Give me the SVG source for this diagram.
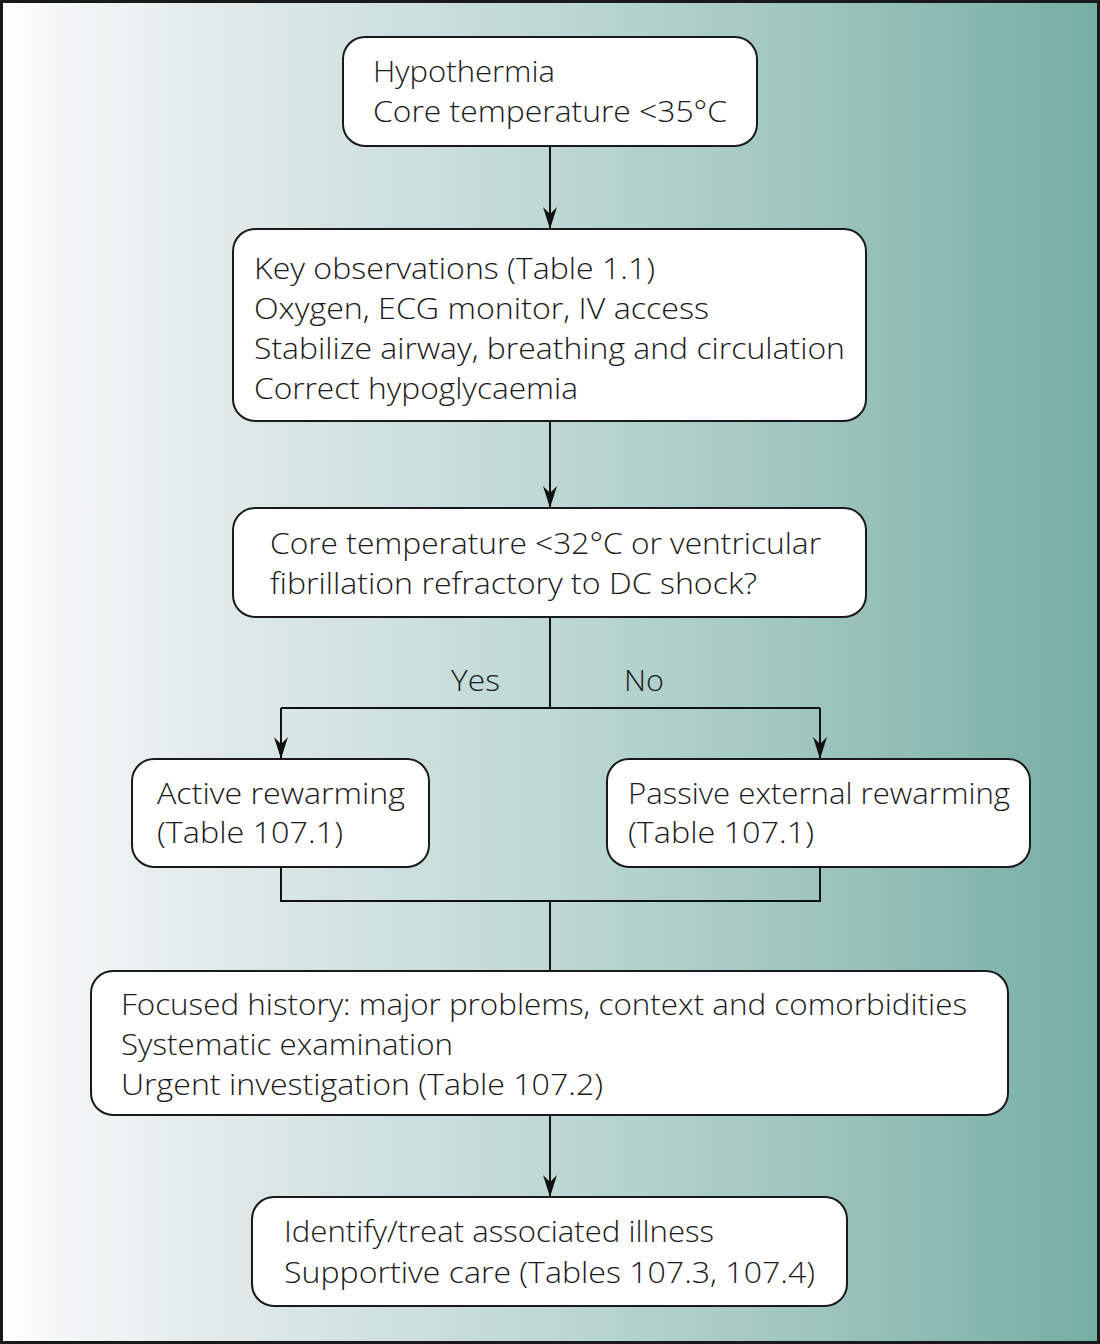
<svg xmlns="http://www.w3.org/2000/svg" width="1100" height="1344" viewBox="0 0 1100 1344">
<defs>
<linearGradient id="bg" x1="0" y1="0" x2="1" y2="0">
<stop offset="0" stop-color="#ffffff"/>
<stop offset="0.05" stop-color="#f4f7f7"/>
<stop offset="0.2" stop-color="#e0eae9"/>
<stop offset="0.5" stop-color="#bed8d4"/>
<stop offset="0.75" stop-color="#9dc4bd"/>
<stop offset="1" stop-color="#76aea5"/>
</linearGradient>
<marker id="ah" viewBox="0 0 24 14" refX="24" refY="7" markerWidth="24" markerHeight="14" markerUnits="userSpaceOnUse" orient="auto">
<path d="M2,0 L24,7 L2,14 L9,7 Z" fill="#111"/>
</marker>
</defs>
<style>
.box{fill:#fff;stroke:#1a1a1a;stroke-width:2}
.ln{fill:none;stroke:#111;stroke-width:2}
text{font-family:"Open Sans","Noto Sans","Liberation Sans",sans-serif;font-size:29px;font-weight:350;fill:#1a1a1a}
</style>
<rect x="0" y="0" width="1100" height="1344" fill="#1a1a1a"/>
<rect x="3" y="3" width="1094" height="1338" fill="url(#bg)"/>
<g id="connectors">
<line class="ln" x1="550" y1="146" x2="550" y2="229" marker-end="url(#ah)"/>
<line class="ln" x1="550" y1="421" x2="550" y2="508" marker-end="url(#ah)"/>
<polyline class="ln" points="550,617 550,708"/>
<polyline class="ln" points="281,708 820,708"/>
<line class="ln" x1="281" y1="708" x2="281" y2="759" marker-end="url(#ah)"/>
<line class="ln" x1="820" y1="708" x2="820" y2="759" marker-end="url(#ah)"/>
<polyline class="ln" points="281,867 281,901 820,901 820,867"/>
<polyline class="ln" points="550,901 550,971"/>
<line class="ln" x1="550" y1="1115" x2="550" y2="1197" marker-end="url(#ah)"/>
<text x="451" y="691" textLength="49" lengthAdjust="spacingAndGlyphs">Yes</text>
<text x="624" y="691" textLength="40" lengthAdjust="spacingAndGlyphs">No</text>
</g>
<g id="n1">
<rect class="box" x="343" y="37" width="414" height="109" rx="22"/>
<text x="373" y="82" textLength="182" lengthAdjust="spacingAndGlyphs">Hypothermia</text>
<text x="373" y="122" textLength="354" lengthAdjust="spacingAndGlyphs">Core temperature &lt;35°C</text>
</g>
<g id="n2">
<rect class="box" x="233" y="229" width="633" height="192" rx="22"/>
<text x="254" y="279" textLength="401" lengthAdjust="spacingAndGlyphs">Key observations (Table 1.1)</text>
<text x="254" y="319" textLength="455" lengthAdjust="spacingAndGlyphs">Oxygen, ECG monitor, IV access</text>
<text x="254" y="359" textLength="591" lengthAdjust="spacingAndGlyphs">Stabilize airway, breathing and circulation</text>
<text x="254" y="399" textLength="324" lengthAdjust="spacingAndGlyphs">Correct hypoglycaemia</text>
</g>
<g id="n3">
<rect class="box" x="233" y="508" width="633" height="109" rx="22"/>
<text x="270" y="554" textLength="551" lengthAdjust="spacingAndGlyphs">Core temperature &lt;32°C or ventricular</text>
<text x="270" y="594" textLength="487" lengthAdjust="spacingAndGlyphs">fibrillation refractory to DC shock?</text>
</g>
<g id="n4">
<rect class="box" x="132" y="759" width="297" height="108" rx="22"/>
<text x="157" y="804" textLength="248" lengthAdjust="spacingAndGlyphs">Active rewarming</text>
<text x="157" y="843" textLength="186" lengthAdjust="spacingAndGlyphs">(Table 107.1)</text>
</g>
<g id="n5">
<rect class="box" x="607" y="759" width="423" height="108" rx="22"/>
<text x="628" y="804" textLength="382" lengthAdjust="spacingAndGlyphs">Passive external rewarming</text>
<text x="628" y="843" textLength="186" lengthAdjust="spacingAndGlyphs">(Table 107.1)</text>
</g>
<g id="n6">
<rect class="box" x="91" y="971" width="917" height="144" rx="22"/>
<text x="121" y="1015" textLength="846" lengthAdjust="spacingAndGlyphs">Focused history: major problems, context and comorbidities</text>
<text x="121" y="1055" textLength="332" lengthAdjust="spacingAndGlyphs">Systematic examination</text>
<text x="121" y="1095" textLength="482" lengthAdjust="spacingAndGlyphs">Urgent investigation (Table 107.2)</text>
</g>
<g id="n7">
<rect class="box" x="252" y="1197" width="595" height="109" rx="22"/>
<text x="284" y="1242" textLength="430" lengthAdjust="spacingAndGlyphs">Identify/treat associated illness</text>
<text x="284" y="1283" textLength="531" lengthAdjust="spacingAndGlyphs">Supportive care (Tables 107.3, 107.4)</text>
</g>
</svg>
